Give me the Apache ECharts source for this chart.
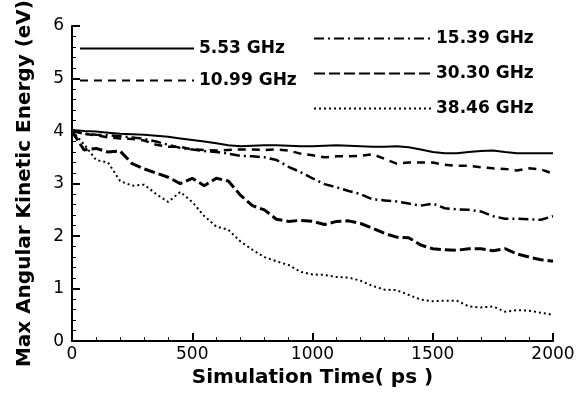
<!DOCTYPE html>
<html>
<head>
<meta charset="utf-8">
<script src="https://cdn.jsdelivr.net/npm/echarts@6/dist/echarts.min.js"></script>
<style>
html, body { margin: 0; padding: 0; background: #fff; }
#chart { width: 585px; height: 393px; }
</style>
</head>
<body>
<div id="chart"></div>
<script>
// 数据：时间（ps）与各频率的最大角动能（eV）
const times = [0, 50, 100, 150, 200, 250, 300, 350, 400, 450, 500, 550, 600, 650, 700, 750, 800, 850, 900, 950,
  1000, 1050, 1100, 1150, 1200, 1250, 1300, 1350, 1400, 1450, 1500, 1550, 1600, 1650, 1700, 1750, 1800, 1850, 1900, 1950, 2000];

const seriesNames = ['5.53 GHz', '10.99 GHz', '15.39 GHz', '30.30 GHz', '38.46 GHz'];

const ghz553 = [4.02, 4.00, 3.99, 3.97, 3.95, 3.94, 3.93, 3.91, 3.89, 3.86, 3.83, 3.80, 3.77, 3.73, 3.71, 3.72, 3.73, 3.73, 3.72, 3.71,
  3.71, 3.72, 3.73, 3.72, 3.71, 3.70, 3.70, 3.71, 3.69, 3.65, 3.60, 3.58, 3.58, 3.60, 3.62, 3.63, 3.60, 3.58, 3.58, 3.58, 3.58];

const ghz1099 = [4.02, 3.95, 3.92, 3.88, 3.86, 3.85, 3.82, 3.74, 3.70, 3.70, 3.65, 3.64, 3.63, 3.64, 3.65, 3.65, 3.64, 3.65, 3.63, 3.57,
  3.54, 3.50, 3.52, 3.52, 3.53, 3.56, 3.47, 3.38, 3.40, 3.40, 3.40, 3.36, 3.34, 3.34, 3.31, 3.29, 3.28, 3.25, 3.29, 3.27, 3.19];

const ghz1539 = [4.00, 3.95, 3.93, 3.92, 3.90, 3.88, 3.85, 3.80, 3.74, 3.68, 3.65, 3.62, 3.60, 3.57, 3.53, 3.52, 3.50, 3.45, 3.32, 3.22,
  3.10, 2.99, 2.93, 2.86, 2.80, 2.70, 2.68, 2.66, 2.62, 2.58, 2.62, 2.53, 2.51, 2.50, 2.47, 2.38, 2.33, 2.33, 2.32, 2.31, 2.38];

const ghz3030 = [4.00, 3.64, 3.67, 3.60, 3.62, 3.38, 3.28, 3.20, 3.12, 3.00, 3.10, 2.96, 3.10, 3.05, 2.78, 2.58, 2.50, 2.32, 2.28, 2.30,
  2.28, 2.22, 2.28, 2.29, 2.24, 2.15, 2.05, 1.98, 1.97, 1.83, 1.76, 1.74, 1.73, 1.76, 1.76, 1.72, 1.76, 1.66, 1.60, 1.55, 1.52];

const ghz3846 = [4.00, 3.75, 3.45, 3.40, 3.05, 2.96, 2.98, 2.80, 2.65, 2.84, 2.65, 2.38, 2.18, 2.12, 1.90, 1.74, 1.60, 1.52, 1.45, 1.32,
  1.27, 1.26, 1.22, 1.21, 1.15, 1.05, 0.98, 0.97, 0.88, 0.79, 0.76, 0.77, 0.77, 0.66, 0.64, 0.66, 0.56, 0.59, 0.58, 0.54, 0.50];

const chart = echarts.init(document.getElementById('chart'));

const FONT = 'DejaVu Sans';

function pairs(values) {
  return times.map((t, i) => [t, values[i]]);
}

function lineSeries(name, values, width, dash) {
  return {
    name: name,
    type: 'line',
    data: pairs(values),
    symbol: 'none',
    smooth: false,
    animation: false,
    lineStyle: { color: '#000', width: width, type: dash },
    itemStyle: { color: '#000' }
  };
}

const legendText = { color: '#000', fontFamily: FONT, fontWeight: 'bold', fontSize: 17 };

const option = {
  animation: false,
  backgroundColor: '#fff',
  grid: { left: 72, right: 32, top: 25, bottom: 46 },
  legend: [
    {
      data: seriesNames.slice(0, 2),
      orient: 'vertical',
      left: 79,
      top: 40,
      padding: 0,
      itemWidth: 114,
      itemHeight: 14,
      itemGap: 15,
      itemStyle: { opacity: 0 },
      textStyle: legendText
    },
    {
      data: seriesNames.slice(2),
      orient: 'vertical',
      left: 313,
      top: 30,
      padding: 0,
      itemWidth: 117,
      itemHeight: 14,
      itemGap: 18,
      itemStyle: { opacity: 0 },
      textStyle: legendText
    }
  ],
  xAxis: {
    type: 'value',
    min: 0,
    max: 2000,
    interval: 500,
    name: 'Simulation Time( ps )',
    nameLocation: 'middle',
    nameGap: 23,
    nameTextStyle: { color: '#000', fontFamily: FONT, fontWeight: 'bold', fontSize: 20 },
    axisLine: { lineStyle: { color: '#000', width: 2 } },
    axisTick: { inside: true, length: 8, lineStyle: { color: '#000', width: 2 } },
    minorTick: { show: true, splitNumber: 5, length: 4, lineStyle: { color: '#000', width: 1 } },
    splitLine: { show: false },
    axisLabel: { color: '#000', fontFamily: FONT, fontSize: 17, margin: 5, formatter: v => String(v) }
  },
  yAxis: {
    type: 'value',
    min: 0,
    max: 6,
    interval: 1,
    name: 'Max Angular Kinetic Energy (eV)',
    nameLocation: 'middle',
    nameRotate: 90,
    nameGap: 37,
    nameTextStyle: { color: '#000', fontFamily: FONT, fontWeight: 'bold', fontSize: 20 },
    axisLine: { show: true, lineStyle: { color: '#000', width: 2 } },
    axisTick: { show: true, inside: true, length: 8, lineStyle: { color: '#000', width: 2 } },
    minorTick: { show: true, splitNumber: 5, length: 4, lineStyle: { color: '#000', width: 1 } },
    splitLine: { show: false },
    axisLabel: { color: '#000', fontFamily: FONT, fontSize: 17, margin: 8 }
  },
  series: [
    lineSeries(seriesNames[0], ghz553, 2, 'solid'),
    lineSeries(seriesNames[1], ghz1099, 2.5, [8, 6]),
    lineSeries(seriesNames[2], ghz1539, 2.5, [10, 4, 2, 4]),
    lineSeries(seriesNames[3], ghz3030, 3, [11, 4]),
    lineSeries(seriesNames[4], ghz3846, 2, [2, 3])
  ]
};

chart.setOption(option);
</script>
</body>
</html>
